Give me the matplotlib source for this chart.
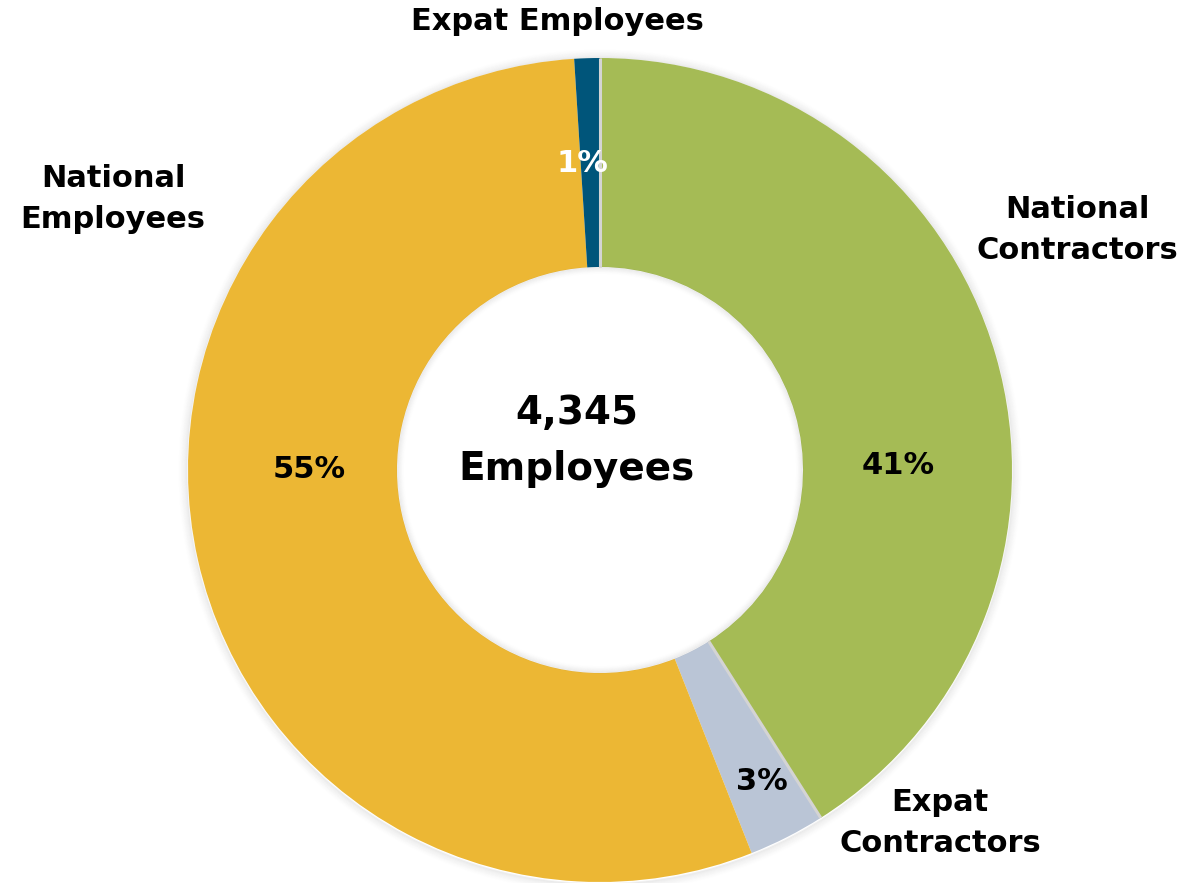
import matplotlib
matplotlib.use("Agg")
import numpy as np
import matplotlib.pyplot as plt
from matplotlib.patches import Circle

# Workforce composition (percent of total headcount), clockwise from the top
categories = ["National Contractors", "Expat Contractors", "National Employees", "Expat Employees"]
shares = [41, 3, 55, 1]
colors = ["#A5BB55", "#BAC5D6", "#ECB734", "#00557A"]
total_headcount = 4345

W, H = 1187, 883
fig = plt.figure(figsize=(W / 100, H / 100), dpi=100)
ax = fig.add_axes([0, 0, 1, 1])

cx, cy = 600, H - 470
r_out, r_in = 412, 203

# soft shadow outside the ring
for k in range(10):
    ax.add_patch(Circle((cx, cy - 1), r_out + 1 + k, facecolor="none",
                        edgecolor="black", alpha=0.05 * (1 - k / 10) ** 1.5,
                        linewidth=1.2, zorder=0))

wedges, _ = ax.pie(shares, colors=colors, startangle=90, counterclock=False,
                   radius=r_out, center=(cx, cy),
                   wedgeprops=dict(width=r_out - r_in, linewidth=0))

# soft shadow just inside the hole
for k in range(7):
    ax.add_patch(Circle((cx, cy), r_in - 0.5 - k, facecolor="none",
                        edgecolor="black", alpha=0.05 * (1 - k / 7) ** 1.5,
                        linewidth=1.2, zorder=3))

# light separators along the contractors wedge's radial edges
for ang in (wedges[0].theta1, wedges[0].theta2):
    t = np.deg2rad(ang)
    ax.plot([cx + r_in * np.cos(t), cx + r_out * np.cos(t)],
            [cy + r_in * np.sin(t), cy + r_out * np.sin(t)],
            color="#D4D4D4", linewidth=2.2, solid_capstyle="butt", zorder=2)

ax.set_xlim(0, W)
ax.set_ylim(0, H)
ax.set_aspect("equal")
ax.axis("off")

font = dict(family="DejaVu Sans", fontweight="bold")


def put(x, y, s, size=22, color="black", spacing=1.5):
    ax.text(x, H - y, s, ha="center", va="center", fontsize=size, color=color,
            linespacing=spacing, zorder=5, **font)


# category labels
put(557, 22, categories[3])
put(113, 199, "National\nEmployees")
put(1077, 230, "National\nContractors")
put(940, 823, "Expat\nContractors")

# percentage labels
pct = [f"{v}%" for v in shares]
put(898, 466, pct[0])
put(762, 781, pct[1])
put(309, 470, pct[2])
put(582, 163, pct[3], color="white")

# centre total
put(577, 441, f"{total_headcount:,}\nEmployees", size=28, spacing=1.6)

fig.savefig("out.png", dpi=100)
